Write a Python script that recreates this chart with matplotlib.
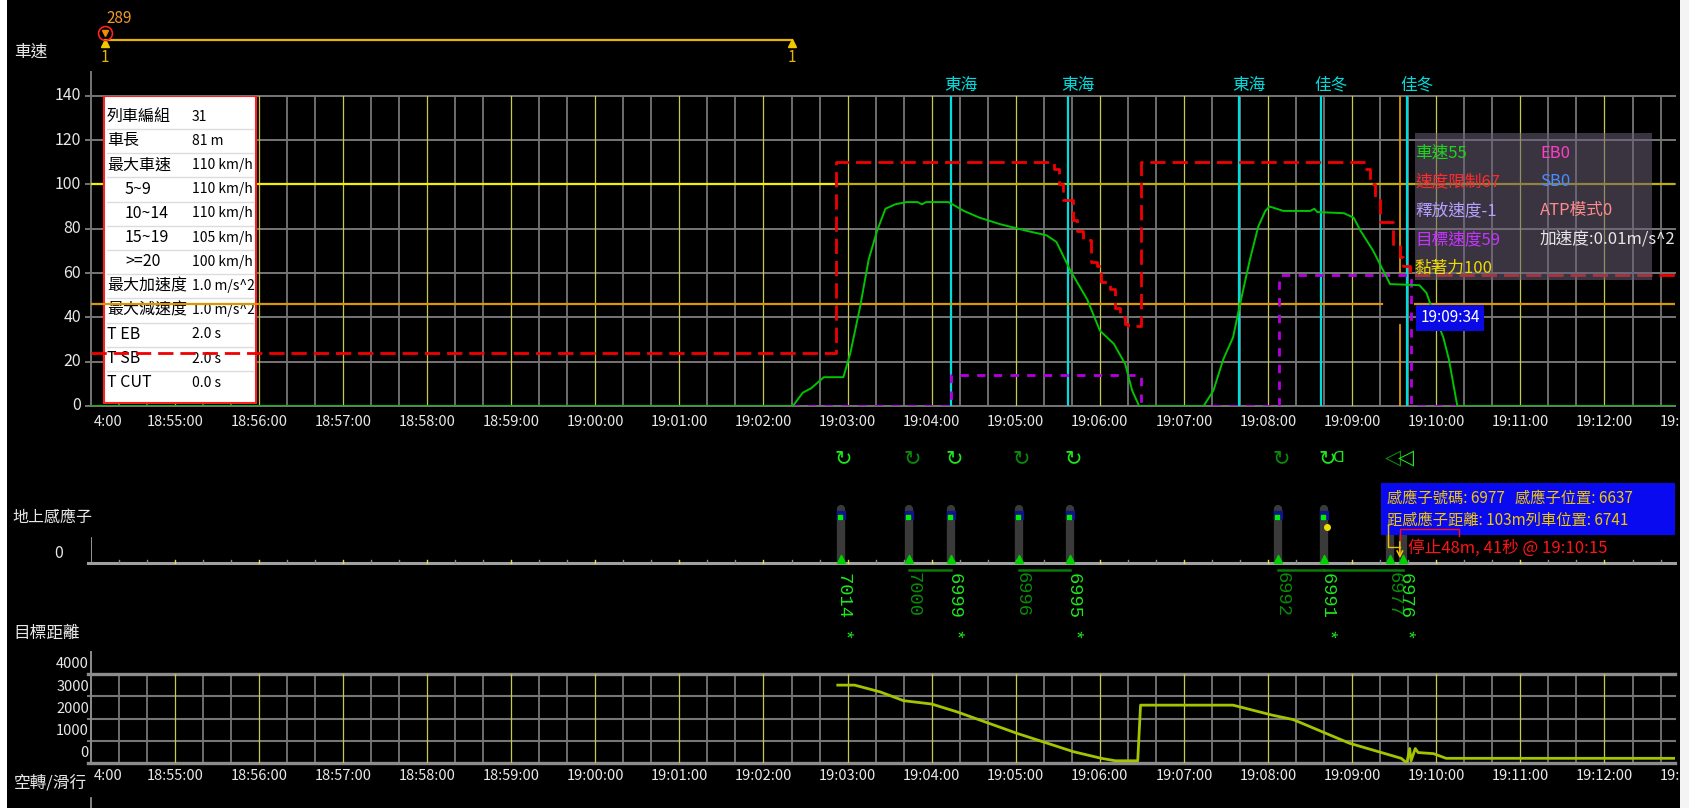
import matplotlib
matplotlib.use('Agg')
import matplotlib.pyplot as plt
from matplotlib.patches import Rectangle
import numpy as np

plt.rcParams['font.family'] = ['Noto Sans CJK TC', 'DejaVu Sans']
plt.rcParams['lines.scale_dashes'] = False

W, H = 1690, 808
X0, X1, PX_MIN = 90.7, 1675.0, 84.1      # 18:54:00 sits at X0, 84.1 px per minute
SPD_TOP, SPD_BOT = 95.7, 406.0           # 140 km/h .. 0 km/h
DST_TOP, DST_BOT = 674.0, 763.0          # 4000 m .. 0 m

# ---------------- data ----------------
minute_labels = ['18:55:00', '18:56:00', '18:57:00', '18:58:00', '18:59:00', '19:00:00',
                 '19:01:00', '19:02:00', '19:03:00', '19:04:00', '19:05:00', '19:06:00',
                 '19:07:00', '19:08:00', '19:09:00', '19:10:00', '19:11:00', '19:12:00',
                 '19:13:00']
speed_ticks = [0, 20, 40, 60, 80, 100, 120, 140]
dist_ticks = [0, 1000, 2000, 3000, 4000]

speed_time = ['18:54:00', '19:02:21', '19:02:28', '19:02:34', '19:02:43', '19:02:57', '19:03:02',
              '19:03:09', '19:03:15', '19:03:21', '19:03:27', '19:03:34', '19:03:42', '19:03:50',
              '19:03:53', '19:03:56', '19:04:12', '19:04:23', '19:04:34', '19:04:49', '19:05:08',
              '19:05:22', '19:05:29', '19:05:39', '19:05:51', '19:06:00', '19:06:10', '19:06:18',
              '19:06:23', '19:06:28', '19:07:14', '19:07:21', '19:07:28', '19:07:35', '19:07:40',
              '19:07:47', '19:07:53', '19:07:58', '19:08:01', '19:08:11', '19:08:30', '19:08:33',
              '19:08:35', '19:08:54', '19:09:01', '19:09:06', '19:09:15', '19:09:27', '19:09:48',
              '19:09:53', '19:09:58', '19:10:05', '19:10:09', '19:10:15', '19:12:51']
speed_kmh = [0, 0, 6, 8, 13, 13, 24, 45, 66, 79, 89, 91, 92, 92, 91, 92, 92, 88, 85, 82,
             79, 77, 74, 61, 48, 34, 28, 19, 7, 0, 0, 7, 21, 31, 46, 66, 81, 88, 90, 88,
             88, 89, 87.5, 87, 85, 79, 70, 55, 54.5, 51, 42, 31, 21, 0, 0]

limit_time = ['18:54:00', '19:02:52', '19:05:27', '19:05:31', '19:05:34', '19:05:41', '19:05:44',
              '19:05:48', '19:05:54', '19:05:58', '19:06:01', '19:06:07', '19:06:11', '19:06:14',
              '19:06:18', '19:06:20', '19:06:29', '19:09:10', '19:09:13', '19:09:16', '19:09:20',
              '19:09:29', '19:09:34', '19:09:36', '19:09:41', '19:12:51']
limit_kmh = [24, 110, 107, 100, 93, 84, 79, 75, 65, 63, 56, 53, 44, 40, 37, 36, 110, 107,
             100, 93, 83, 73, 67, 63, 59, 59]

target_time = ['18:54:00', '19:04:14', '19:06:29', '19:08:08', '19:09:42', '19:12:51']
target_kmh = [0, 14, 0, 59, 0, 0]

ceiling_kmh = 100
ceiling_change = '19:02:52'
adhesion_kmh = 46
adhesion_gap = ('19:09:21', '19:09:45')

stations = ['東海', '東海', '東海', '佳冬', '佳冬']
station_time = ['19:04:14', '19:05:37', '19:07:39', '19:08:38', '19:09:39']

cursor_time = '19:09:34'
track_start, track_end = '18:54:10', '19:02:20'
track_id, track_count = '289', '1'

sensor_id = ['7014', '7000', '6999', '6996', '6995', '6992', '6991', '6977', '6976']
sensor_time = ['19:02:55', '19:03:44', '19:04:14', '19:05:02', '19:05:39', '19:08:07',
               '19:08:40', '19:09:27', '19:09:36']
sensor_hit = [True, False, True, False, True, False, True, False, True]
sensor_links = [('7000', '6999'), ('6996', '6995'), ('6992', '6991'), ('6991', '6976')]

dist_time = ['19:02:53', '19:03:05', '19:03:14', '19:03:23', '19:03:40', '19:04:00', '19:04:18',
             '19:05:01', '19:05:41', '19:06:01', '19:06:11', '19:06:27', '19:06:29', '19:07:35',
             '19:08:03', '19:08:18', '19:08:58', '19:09:35', '19:09:39', '19:09:41', '19:09:42',
             '19:09:45', '19:09:47', '19:09:58', '19:10:07', '19:12:51']
dist_m = [3500, 3500, 3350, 3200, 2800, 2650, 2300, 1330, 510, 210, 100, 100, 2600, 2600,
          2150, 1950, 890, 210, 0, 650, 100, 650, 470, 420, 210, 210]

info_keys = ['列車編組', '車長', '最大車速', '5~9', '10~14', '15~19', '>=20',
             '最大加速度', '最大減速度', 'T EB', 'T SB', 'T CUT']
info_vals = ['31', '81 m', '110 km/h', '110 km/h', '110 km/h', '105 km/h', '100 km/h',
             '1.0 m/s^2', '1.0 m/s^2', '2.0 s', '2.0 s', '0.0 s']
info_indent = [False, False, False, True, True, True, True, False, False, False, False, False]

status_left = [('車速55', '#1ed21e'), ('速度限制67', '#ff2a2a'), ('釋放速度-1', '#b4a0ff'),
               ('目標速度59', '#c832ff'), ('黏著力100', '#f0dc00')]
status_right = [('EB0', '#ff3cc8'), ('SB0', '#4a8cff'), ('ATP模式0', '#ff8c8c'),
                ('加速度:0.01m/s^2', '#e6e6e6')]

sensor_info = ['感應子號碼: 6977   感應子位置: 6637', '距感應子距離: 103m列車位置: 6741']
stop_text = '停止48m, 41秒 @ 19:10:15'

# ---------------- colours ----------------
GRID = '#767676'
MIN_GRID = '#c8c84a'
TXT = '#e8e8e8'
GREEN = '#00c400'
RED = '#f00000'
PURPLE = '#b400e0'
CYAN = '#00dcdc'
ORANGE = '#d89a00'
DIST = '#a4c400'
BRIGHT = '#1ee61e'
DIM = '#0a8c0a'


def to_min(s):
    h, m, sec = (int(p) for p in s.split(':'))
    return h * 60 + m + sec / 60 - (18 * 60 + 54)


def mins(lst):
    return np.array([to_min(s) for s in lst])


def px2min(x):
    return (x - X0) / PX_MIN


def spd(y):
    return (SPD_BOT - y) / (SPD_BOT - SPD_TOP) * 140


def dst(y):
    return (DST_BOT - y) / (DST_BOT - DST_TOP) * 4000


X_MAX = px2min(X1)

fig = plt.figure(figsize=(W / 100, H / 100), dpi=100, facecolor='black')


def px_axes(left, top, right, bottom):
    ax = fig.add_axes([left / W, 1 - bottom / H, (right - left) / W, (bottom - top) / H])
    ax.set_axis_off()
    ax.set_xlim(0, X_MAX)
    return ax


def ftext(x, y, s, **kw):
    kw.setdefault('color', TXT)
    kw.setdefault('va', 'center')
    return fig.text(x / W, 1 - y / H, s, **kw)


grid_x = np.arange(1, int(X_MAX * 3) + 1) / 3


def time_grid(ax, lo, hi):
    for k, x in enumerate(grid_x, start=1):
        if k % 3 == 0:
            ax.plot([x, x], [lo, hi], color=MIN_GRID, lw=0.9, zorder=1.2)
        else:
            ax.plot([x, x], [lo, hi], color=GRID, lw=1.3, zorder=1)


def time_labels(ax, y):
    ax.text(px2min(108), y, '4:00', ha='center', va='center', color=TXT, fontsize=10.5)
    for k, lab in enumerate(minute_labels, start=1):
        ax.text(k, y, lab, ha='center', va='center', color=TXT, fontsize=10.5)


# ================= speed panel =================
ax1 = px_axes(X0, SPD_TOP, X1, SPD_BOT)
ax1.set_ylim(0, 140)
time_grid(ax1, 0, 140)
for v in speed_ticks:
    ax1.plot([px2min(86), X_MAX], [v, v], color=GRID, lw=1.4, clip_on=False, zorder=1)
    ax1.text(px2min(81), v, str(v), ha='right', va='center', color=TXT, fontsize=11.5)
ax1.plot([0, 0], [0, spd(72)], color=GRID, lw=1.4, clip_on=False, zorder=1)
time_labels(ax1, spd(422))
ftext(31, 52, '車速', ha='center', fontsize=12)

# reference speed lines
tc = to_min(ceiling_change)
ax1.plot([0, tc], [ceiling_kmh] * 2, color='#f4f000', lw=1.6, zorder=2)
ax1.plot([tc, X_MAX], [ceiling_kmh] * 2, color='#c0b000', lw=1.6, zorder=2)
ga, gb = to_min(adhesion_gap[0]), to_min(adhesion_gap[1])
ax1.plot([0, ga], [adhesion_kmh] * 2, color=ORANGE, lw=1.6, zorder=6)
ax1.plot([gb, X_MAX], [adhesion_kmh] * 2, color=ORANGE, lw=1.6, zorder=6)

# stations
for name, t in zip(stations, station_time):
    x = to_min(t)
    ax1.plot([x, x], [0, 140], color=CYAN, lw=1.6, zorder=3)
    ax1.text(x + px2min(X0 + 10), spd(85), name, ha='center', va='center',
             color=CYAN, fontsize=12)

# train parameter table
tbl = Rectangle((px2min(104), spd(403)), px2min(256) - px2min(104), spd(96) - spd(403),
                fc='white', ec='#ff2020', lw=1.5, zorder=4)
ax1.add_patch(tbl)
for i, (k, v, ind) in enumerate(zip(info_keys, info_vals, info_indent)):
    y = 116.7 + i * 24.2
    if i:
        ax1.plot([px2min(107), px2min(253)], [spd(y - 12)] * 2, color='#dcdcdc', lw=1, zorder=4.5)
    ax1.text(px2min(125 if ind else 107), spd(y), k, ha='left', va='center',
             color='black', fontsize=11.5, zorder=5)
    ax1.text(px2min(192), spd(y), v, ha='left', va='center',
             color='black', fontsize=10, zorder=5)

# speed traces
ax1.plot(mins(target_time), target_kmh, color=PURPLE, lw=2, drawstyle='steps-post',
         dashes=(6, 6), zorder=6.5)
ax1.plot(mins(limit_time), limit_kmh, color=RED, lw=2, drawstyle='steps-post',
         dashes=(11, 5), zorder=6)
ax1.plot(mins(speed_time), speed_kmh, color=GREEN, lw=1.4, zorder=7)

# cursor
xc = to_min(cursor_time)
ax1.plot([xc, xc], [0, spd(325)], color=ORANGE, lw=1.3, zorder=5)
ax1.plot([xc, xc], [spd(272), 140], color=ORANGE, lw=1.3, zorder=5)
ax1.text(px2min(1450), spd(318), cursor_time, ha='center', va='center', color='white',
         fontsize=11, zorder=10,
         bbox=dict(boxstyle='square,pad=0.3', fc='#0a0ae6', ec='none'))

# status box
ax1.add_patch(Rectangle((px2min(1415), spd(280)), px2min(1652) - px2min(1415),
                        spd(133) - spd(280), fc='#6a5f78', ec='none', alpha=0.55, zorder=8))
for i, (s, c) in enumerate(status_left):
    ax1.text(px2min(1415), spd(153 + i * 28.8), s, ha='left', va='center', color=c,
             fontsize=12, zorder=9)
for i, (s, c) in enumerate(status_right):
    ax1.text(px2min(1540), spd(153 + i * 28.8), s, ha='left', va='center', color=c,
             fontsize=12, zorder=9)

# run track marker above the chart
t0, t1 = to_min(track_start), to_min(track_end)
ax1.plot([t0, t1], [spd(40)] * 2, color='#e6b400', lw=1.6, clip_on=False)
ax1.plot([t0, t1], [spd(43)] * 2, ls='none', marker='^', ms=6, color='#f0c800', clip_on=False)
ax1.plot([t0], [spd(33)], ls='none', marker='v', ms=5, color='#f08c00', clip_on=False)
ax1.plot([t0], [spd(33)], ls='none', marker='o', ms=10, mfc='none', mec='#ff2020', mew=1.2,
         clip_on=False)
ax1.text(t0 + px2min(X0 + 14), spd(18), track_id, ha='center', va='center', color='#f09c28',
         fontsize=11)
for t in (t0, t1):
    ax1.text(t, spd(57), track_count, ha='center', va='center', color='#e6b400', fontsize=11)

# ================= ground sensor panel =================
ax2 = px_axes(X0, 440, X1, 660)
ax2.set_ylim(660, 440)
ftext(52, 517, '地上感應子', ha='center', fontsize=11.5)
ftext(59, 553, '0', ha='center', fontsize=11.5)
ax2.plot([px2min(88), X_MAX], [563, 563], color='#a0a0a0', lw=2.2, clip_on=False, zorder=2)
ax2.plot([0, 0], [538, 563], color='#a0a0a0', lw=1.3, zorder=2)
for k, x in enumerate(grid_x, start=1):
    ax2.plot([x, x], [560, 563], color='#e6dc50' if k % 3 == 0 else '#8c8c8c', lw=1, zorder=2.5)

sx = mins(sensor_time)
sid = {s: x for s, x in zip(sensor_id, sx)}
ax2.vlines(sx, 509, 561, color='#3a3a3a', lw=6, capstyle='round', zorder=1)
ax2.scatter(sx, [515] * len(sx), marker='s', s=26, color='#12128c', zorder=3)
ax2.scatter(sx - px2min(X0 + 1), [517] * len(sx), marker='s', s=11, color='#00f000', zorder=4)
ax2.scatter([sid['6991'] + px2min(X0 + 3)], [527], marker='o', s=16, color='#f0e000', zorder=4)
ax2.scatter(sx, [559] * len(sx), marker='^', s=34, color='#00d200', zorder=4)
for a, b in sensor_links:
    ax2.plot([sid[a], sid[b]], [570, 570], color='#0a7a0a', lw=1.8, zorder=2)

for s, x, hit in zip(sensor_id, sx, sensor_hit):
    col = BRIGHT if hit else DIM
    glyph = '◁' if s in ('6977', '6976') else '↻'
    ax2.text(x + px2min(X0 + 3), 458, glyph, ha='center', va='center', color=col,
             fontsize=15, family=['DejaVu Sans'])
    ax2.text(x + px2min(X0 + 4), 572, s + (' *' if hit else ''), rotation=270,
             ha='center', va='top', color=col, fontsize=13.5,
             family=['Liberation Mono', 'DejaVu Sans Mono'])
ax2.text(sid['6991'] + px2min(X0 + 14), 458, 'ᗡ', ha='center', va='center', color=BRIGHT,
         fontsize=11, family=['DejaVu Sans'])

# sensor readout
ax2.add_patch(Rectangle((px2min(1380.7), 482.7), X_MAX - px2min(1380.7), 52.3,
                        fc='#0a0af0', ec='none', zorder=6))
for i, line in enumerate(sensor_info):
    ax2.text(px2min(1386.7), 498 + i * 22, line, ha='left', va='center', color='#f0c800',
             fontsize=11, zorder=7)
ax2.plot([px2min(1388), px2min(1388), px2min(1400)], [525, 547, 547], color='#f0c000',
         lw=1, zorder=7)
ax2.plot([xc, xc, px2min(1459), px2min(1459)], [540, 529, 529, 536], color='#ff1010',
         lw=1, zorder=7)
ax2.annotate('', xy=(xc, 561), xytext=(xc, 539),
             arrowprops=dict(arrowstyle='->', color='#f0c000', lw=1.2), zorder=7)
ax2.text(px2min(1408), 548, stop_text, ha='left', va='center', color='#ff1414',
         fontsize=12, zorder=7)

# ================= target distance panel =================
ax3 = px_axes(X0, DST_TOP, X1, DST_BOT)
ax3.set_ylim(0, 4000)
time_grid(ax3, 0, 4000)
for v in dist_ticks:
    edge = v in (0, 4000)
    ax3.plot([px2min(88), X_MAX], [v, v], color='#8c8c8c' if edge else GRID,
             lw=2.4 if edge else 1.5, clip_on=False, zorder=1)
    ax3.text(px2min(89), v + 120, str(v), ha='right', va='bottom', color=TXT, fontsize=10.5)
ax3.plot([0, 0], [0, dst(652)], color='#8c8c8c', lw=1.4, clip_on=False)
ax3.plot(mins(dist_time), dist_m, color=DIST, lw=2, zorder=3)
time_labels(ax3, dst(776))
ftext(47, 633, '目標距離', ha='center', fontsize=12)
ftext(50, 783, '空轉/滑行', ha='center', fontsize=12)
fig.add_artist(plt.Line2D([91 / W, 91 / W], [0, 10 / H], color='#8c8c8c', lw=1.3))

# white window edges
fig.add_artist(Rectangle((0, 0), 7 / W, 1, transform=fig.transFigure, fc='white',
                         ec='none', zorder=50))
fig.add_artist(Rectangle((1680 / W, 0), 10 / W, 1, transform=fig.transFigure, fc='#f4f4f4',
                         ec='none', zorder=50))

fig.savefig('out.png', dpi=100, facecolor='black')
